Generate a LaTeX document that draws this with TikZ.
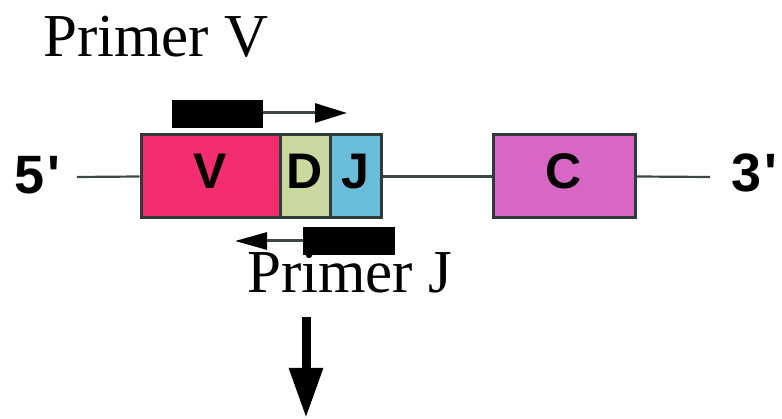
\documentclass[tikz,border=0pt]{standalone}
\usepackage{fontspec}
\usetikzlibrary{arrows.meta}
\newfontfamily\labfont{Liberation Sans}[Ligatures=TeXOff]
\newfontfamily\primfont{Liberation Serif}
\definecolor{vcol}{RGB}{242,46,110}
\definecolor{dcol}{RGB}{201,217,159}
\definecolor{jcol}{RGB}{105,189,216}
\definecolor{ccol}{RGB}{216,102,196}
\definecolor{edge}{RGB}{45,59,59}
\definecolor{wire}{RGB}{60,72,72}
\tikzset{
  seg/.style={draw=edge, line width=3pt, minimum height=83pt, inner sep=0pt,
    text depth=10pt, font=\labfont\bfseries\fontsize{50}{50}\selectfont},
  endlab/.style={inner sep=0pt, anchor=base west, font=\labfont\bfseries\fontsize{54}{54}\selectfont},
  primlab/.style={inner sep=0pt, anchor=base west, font=\primfont\fontsize{61}{61}\selectfont},
  primbar/.style={fill=black, draw=none, minimum width=92pt, minimum height=28pt, inner sep=0pt},
  wireline/.style={draw=wire, line width=2.2pt},
  primarrow/.style={draw=wire, line width=3pt, -{Triangle[length=32pt,width=19pt,color=black]}},
}
\begin{document}
\begin{tikzpicture}[x=1pt,y=-1pt]
\useasboundingbox (0,0) rectangle (782,419);
% labels
\node[primlab] (pv) at (43,57) {Primer V};
\node[primlab] (pj) at (247,293) {Primer J};
\node[endlab] (five) at (14,194) {5\kern3pt'};
\node[endlab] (three) at (731,192) {3\kern3pt'};
% wire ends
\coordinate (lend) at (77,177);
\coordinate (rend) at (710,177);
% segments
\node[seg, fill=vcol, minimum width=139pt] (V) at (210.5,176.5) {V};
\node[seg, fill=dcol, minimum width=50pt] (D) at (305,176.5) {D};
\node[seg, fill=jcol, minimum width=51pt] (J) at (355.5,176.5) {J};
\node[seg, fill=ccol, minimum width=142pt] (C) at (564,176.5) {C};
\draw[wireline] (lend) -- (V.west);
\draw[wireline] (J.east) -- (C.west);
\draw[wireline] (C.east) -- (rend);
% primers
\node[primbar, minimum width=91pt] (bv) at (217.5,114) {};
\coordinate (bvtip) at (347,113);
\draw[primarrow] (bv.east |- bvtip) -- (bvtip);
\node[primbar] (bj) at (349,241) {};
\coordinate (bjtip) at (235,241);
\draw[primarrow, -{Triangle[length=32pt,width=17pt,color=black]}] (bj.west |- bjtip) -- (bjtip);
% down arrow
\coordinate (dtop) at (306,317);
\coordinate (dbot) at (306,418);
\draw[line width=9pt, -{Triangle[length=50pt,width=32pt]}] (dtop) -- (dbot);
\end{tikzpicture}
\end{document}
